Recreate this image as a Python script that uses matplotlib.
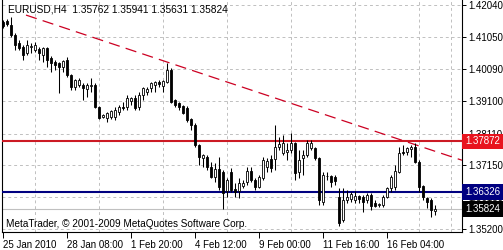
import matplotlib.pyplot as plt
import matplotlib.transforms as mtransforms
import numpy as np

# EURUSD H4 candles
opens = [1.4152, 1.4155, 1.4143, 1.4112, 1.4088, 1.4076, 1.4057, 1.4076, 1.4067, 1.4070,
         1.4051, 1.4073, 1.4042, 1.4030, 1.4027, 1.4015, 1.4036, 1.3990, 1.3954, 1.3960,
         1.3960, 1.3948, 1.3957, 1.3960, 1.3893, 1.3862, 1.3859, 1.3862, 1.3862, 1.3877,
         1.3893, 1.3893, 1.3911, 1.3920, 1.3893, 1.3929, 1.3938, 1.3951, 1.3960, 1.3969,
         1.3957, 1.3969, 1.4006, 1.3914, 1.3905, 1.3896, 1.3890, 1.3856, 1.3838, 1.3776,
         1.3737, 1.3740, 1.3709, 1.3679, 1.3703, 1.3694, 1.3636, 1.3694, 1.3642, 1.3636,
         1.3651, 1.3663, 1.3697, 1.3670, 1.3648, 1.3676, 1.3709, 1.3734, 1.3734, 1.3770,
         1.3752, 1.3755, 1.3761, 1.3783, 1.3694, 1.3737, 1.3746, 1.3767, 1.3767, 1.3737,
         1.3602, 1.3682, 1.3682, 1.3679, 1.3618, 1.3547, 1.3609, 1.3612, 1.3609, 1.3621,
         1.3618, 1.3609, 1.3624, 1.3599, 1.3593, 1.3593, 1.3618, 1.3645, 1.3648, 1.3694,
         1.3755, 1.3755, 1.3764, 1.3770, 1.3725, 1.3651, 1.3615, 1.3609, 1.35762]
highs = [1.4158, 1.4161, 1.4167, 1.4118, 1.4097, 1.4082, 1.4097, 1.4088, 1.4091, 1.4076,
         1.4076, 1.4076, 1.4048, 1.4036, 1.4030, 1.4036, 1.4045, 1.3993, 1.3978, 1.3981,
         1.3966, 1.3966, 1.3981, 1.3966, 1.3896, 1.3871, 1.3877, 1.3883, 1.3893, 1.3899,
         1.3908, 1.3929, 1.3923, 1.3929, 1.3938, 1.3954, 1.3954, 1.3969, 1.3972, 1.3975,
         1.3975, 1.4027, 1.4012, 1.3917, 1.3908, 1.3899, 1.3896, 1.3859, 1.3844, 1.3780,
         1.3749, 1.3746, 1.3725, 1.3722, 1.3740, 1.3700, 1.3676, 1.3706, 1.3660, 1.3676,
         1.3670, 1.3709, 1.3709, 1.3676, 1.3685, 1.3740, 1.3737, 1.3746, 1.3838, 1.3801,
         1.3807, 1.3783, 1.3813, 1.3786, 1.3761, 1.3761, 1.3792, 1.3792, 1.3770, 1.3740,
         1.3694, 1.3694, 1.3685, 1.3685, 1.3645, 1.3645, 1.3639, 1.3633, 1.3636, 1.3624,
         1.3624, 1.3630, 1.3630, 1.3609, 1.3599, 1.3624, 1.3648, 1.3685, 1.3715, 1.3770,
         1.3776, 1.3770, 1.3776, 1.3783, 1.3731, 1.3654, 1.3618, 1.3615, 1.35941]
lows = [1.4134, 1.4140, 1.4106, 1.4067, 1.4067, 1.4036, 1.4051, 1.4057, 1.4060, 1.4036,
        1.4030, 1.4015, 1.3999, 1.4006, 1.3935, 1.3999, 1.3984, 1.3944, 1.3944, 1.3954,
        1.3914, 1.3923, 1.3938, 1.3890, 1.3856, 1.3859, 1.3847, 1.3856, 1.3853, 1.3868,
        1.3883, 1.3883, 1.3899, 1.3883, 1.3883, 1.3914, 1.3929, 1.3938, 1.3938, 1.3954,
        1.3938, 1.3966, 1.3905, 1.3893, 1.3883, 1.3871, 1.3847, 1.3822, 1.3770, 1.3715,
        1.3709, 1.3700, 1.3676, 1.3663, 1.3639, 1.3581, 1.3618, 1.3633, 1.3618, 1.3615,
        1.3645, 1.3654, 1.3663, 1.3639, 1.3645, 1.3670, 1.3694, 1.3694, 1.3700, 1.3761,
        1.3746, 1.3731, 1.3752, 1.3670, 1.3676, 1.3685, 1.3740, 1.3761, 1.3731, 1.3593,
        1.3593, 1.3670, 1.3648, 1.3654, 1.3529, 1.3541, 1.3599, 1.3602, 1.3599, 1.3599,
        1.3572, 1.3599, 1.3578, 1.3587, 1.3587, 1.3587, 1.3615, 1.3633, 1.3639, 1.3691,
        1.3746, 1.3746, 1.3740, 1.3722, 1.3633, 1.3609, 1.3584, 1.3557, 1.35631]
closes = [1.4140, 1.4146, 1.4112, 1.4082, 1.4073, 1.4051, 1.4082, 1.4079, 1.4082, 1.4057,
          1.4073, 1.4036, 1.4027, 1.4021, 1.4015, 1.4033, 1.3990, 1.3954, 1.3975, 1.3975,
          1.3951, 1.3960, 1.3960, 1.3893, 1.3859, 1.3868, 1.3874, 1.3880, 1.3883, 1.3893,
          1.3890, 1.3920, 1.3920, 1.3890, 1.3929, 1.3951, 1.3948, 1.3966, 1.3969, 1.3963,
          1.3972, 1.4006, 1.3908, 1.3899, 1.3893, 1.3874, 1.3853, 1.3838, 1.3776, 1.3740,
          1.3746, 1.3709, 1.3679, 1.3703, 1.3648, 1.3630, 1.3670, 1.3639, 1.3633, 1.3660,
          1.3660, 1.3697, 1.3670, 1.3648, 1.3679, 1.3731, 1.3728, 1.3706, 1.3770, 1.3780,
          1.3783, 1.3761, 1.3783, 1.3691, 1.3731, 1.3746, 1.3783, 1.3783, 1.3737, 1.3609,
          1.3685, 1.3683, 1.3663, 1.3667, 1.3538, 1.3609, 1.3618, 1.3627, 1.3621, 1.3612,
          1.3602, 1.3624, 1.3590, 1.3590, 1.3596, 1.3618, 1.3645, 1.3679, 1.3697, 1.3752,
          1.3752, 1.3767, 1.3770, 1.3725, 1.3648, 1.3618, 1.3602, 1.3578, 1.35824]

xtick_pos = [0, 16, 32, 48, 64, 80, 96]
xtick_labels = ['25 Jan 2010', '28 Jan 08:00', '1 Feb 20:00', '4 Feb 12:00',
                '9 Feb 00:00', '11 Feb 16:00', '16 Feb 04:00']
ytick_vals = [1.42040, 1.41050, 1.40090, 1.39100, 1.38110, 1.37150, 1.36180, 1.35200]

resistance = 1.37872
support = 1.36326
last_price = 1.35824
trend_x = [5.75, 114.75]
trend_y = [1.4173, 1.3730]

plt.rcParams['font.family'] = ['Liberation Sans', 'DejaVu Sans']
plt.rcParams['font.size'] = 7

fig = plt.figure(figsize=(5.03, 2.5), dpi=100)
ax = fig.add_axes([2 / 503, 18 / 250, 460 / 503, 232 / 250])

o = np.array(opens)
h = np.array(highs)
l = np.array(lows)
c = np.array(closes)
x = np.arange(len(o))
up = c >= o

# candles
ax.vlines(x, l, h, color='black', lw=0.75, zorder=4)
ax.bar(x, np.maximum(np.abs(c - o), 0.00003), bottom=np.minimum(o, c), width=0.55,
       color=np.where(up, 'white', 'black'), edgecolor='black', linewidth=0.6, zorder=5)

# levels
ax.axhline(last_price, color='#c0c0c0', lw=0.8, zorder=2)
ax.axhline(resistance, color='#cc1a24', lw=1.5, zorder=3)
ax.axhline(support, color='#000080', lw=1.5, zorder=3)
ax.plot(trend_x, trend_y, color='#cc0022', lw=0.9, dashes=(9, 5), zorder=3)

ax.set_xlim(-0.25, 114.75)
ax.set_ylim(1.3511, 1.4219)

# grid
ax.set_xticks(np.arange(0, 115, 8), minor=True)
ax.set_xticks(xtick_pos)
ax.set_xticklabels(xtick_labels)
ax.set_yticks(ytick_vals)
ax.set_yticklabels(['%.5f' % v for v in ytick_vals])
ax.grid(which='minor', axis='x', color='#c0c0c0', linestyle=(0, (3, 3)), lw=0.7)
ax.grid(which='major', axis='y', color='#c0c0c0', linestyle=(0, (3, 3)), lw=0.7)
ax.set_axisbelow(True)

ax.yaxis.tick_right()
ax.tick_params(axis='y', which='major', length=3, width=0.7, pad=1.5, labelsize=7)
ax.tick_params(axis='x', which='major', length=4, width=0.7, pad=2, labelsize=7)
ax.tick_params(axis='x', which='minor', length=0)
for lbl in ax.get_xticklabels():
    lbl.set_ha('left')

for side in ['left', 'right', 'bottom']:
    ax.spines[side].set_color('black')
    ax.spines[side].set_linewidth(0.8)
ax.spines['top'].set_visible(False)

# price labels on the right
trans = mtransforms.blended_transform_factory(ax.transAxes, ax.transData)
for val, col in [(resistance, '#e8141e'), (support, '#000080'), (last_price, 'black')]:
    ax.text(1.007, val, '%.5f' % val, transform=trans, ha='left', va='center',
            color='white', fontsize=7, clip_on=False, zorder=10,
            bbox=dict(facecolor=col, edgecolor='none', boxstyle='square,pad=0.3'))

fig.text(8 / 503, 1 - 10 / 250, 'EURUSD,H4  1.35762 1.35941 1.35631 1.35824',
         ha='left', va='center', fontsize=7.3)
fig.text(6 / 503, 1 - 224 / 250, 'MetaTrader, \u00a9 2001-2009 MetaQuotes Software Corp.',
         ha='left', va='center', fontsize=7.2)

fig.savefig('out.png', dpi=100)
